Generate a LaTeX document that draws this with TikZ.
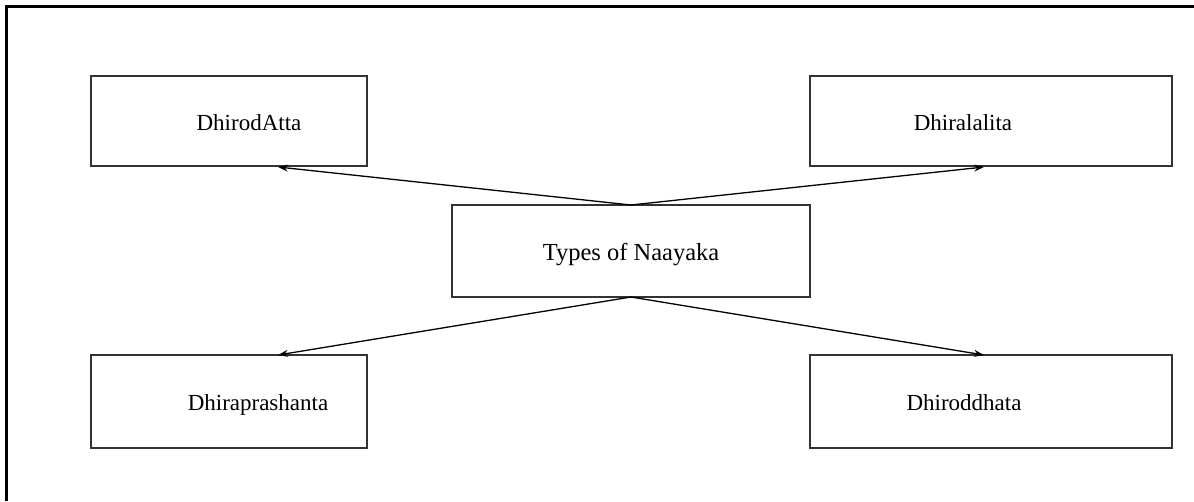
\documentclass[tikz,border=0pt]{standalone}
\usepackage{fontspec}
\setmainfont{Liberation Serif}
\usetikzlibrary{arrows.meta}
\begin{document}
\begin{tikzpicture}[x=1pt,y=-1pt,
  box/.style={draw=black!80,line width=1.4pt},
  lbl/.style={font=\fontsize{23}{26}\selectfont,inner sep=0pt,anchor=base},
  conn/.style={line width=1.3pt,-{Stealth[length=10pt,width=7pt]}}]
\useasboundingbox (0,0) rectangle (1194,501);
\draw[line width=3pt] (6,501) -- (6,6) -- (1194,6);
% boxes
\draw[box] (91,76) rectangle (367,166);
\draw[box] (810,76) rectangle (1172,166);
\draw[box] (452,205) rectangle (810,297);
\draw[box] (91,355) rectangle (367,448);
\draw[box] (810,355) rectangle (1172,448);
% labels
\node[lbl] (a) at (249,130) {DhirodAtta};
\node[lbl] (b) at (963,130) {Dhiralalita};
\node[lbl,font=\fontsize{24.5}{27}\selectfont] (c) at (631,260) {Types of Naayaka};
\node[lbl] (d) at (258,410) {Dhiraprashanta};
\node[lbl] (e) at (964,410) {Dhiroddhata};
% anchors
\coordinate (ctop) at (631,205);
\coordinate (cbot) at (631,297);
\coordinate (ta) at (278,167);
\coordinate (tb) at (984,167);
\coordinate (td) at (278,355);
\coordinate (te) at (984,355);
\draw[conn] (ctop) -- (ta);
\draw[conn] (ctop) -- (tb);
\draw[conn] (cbot) -- (td);
\draw[conn] (cbot) -- (te);
\end{tikzpicture}
\end{document}
